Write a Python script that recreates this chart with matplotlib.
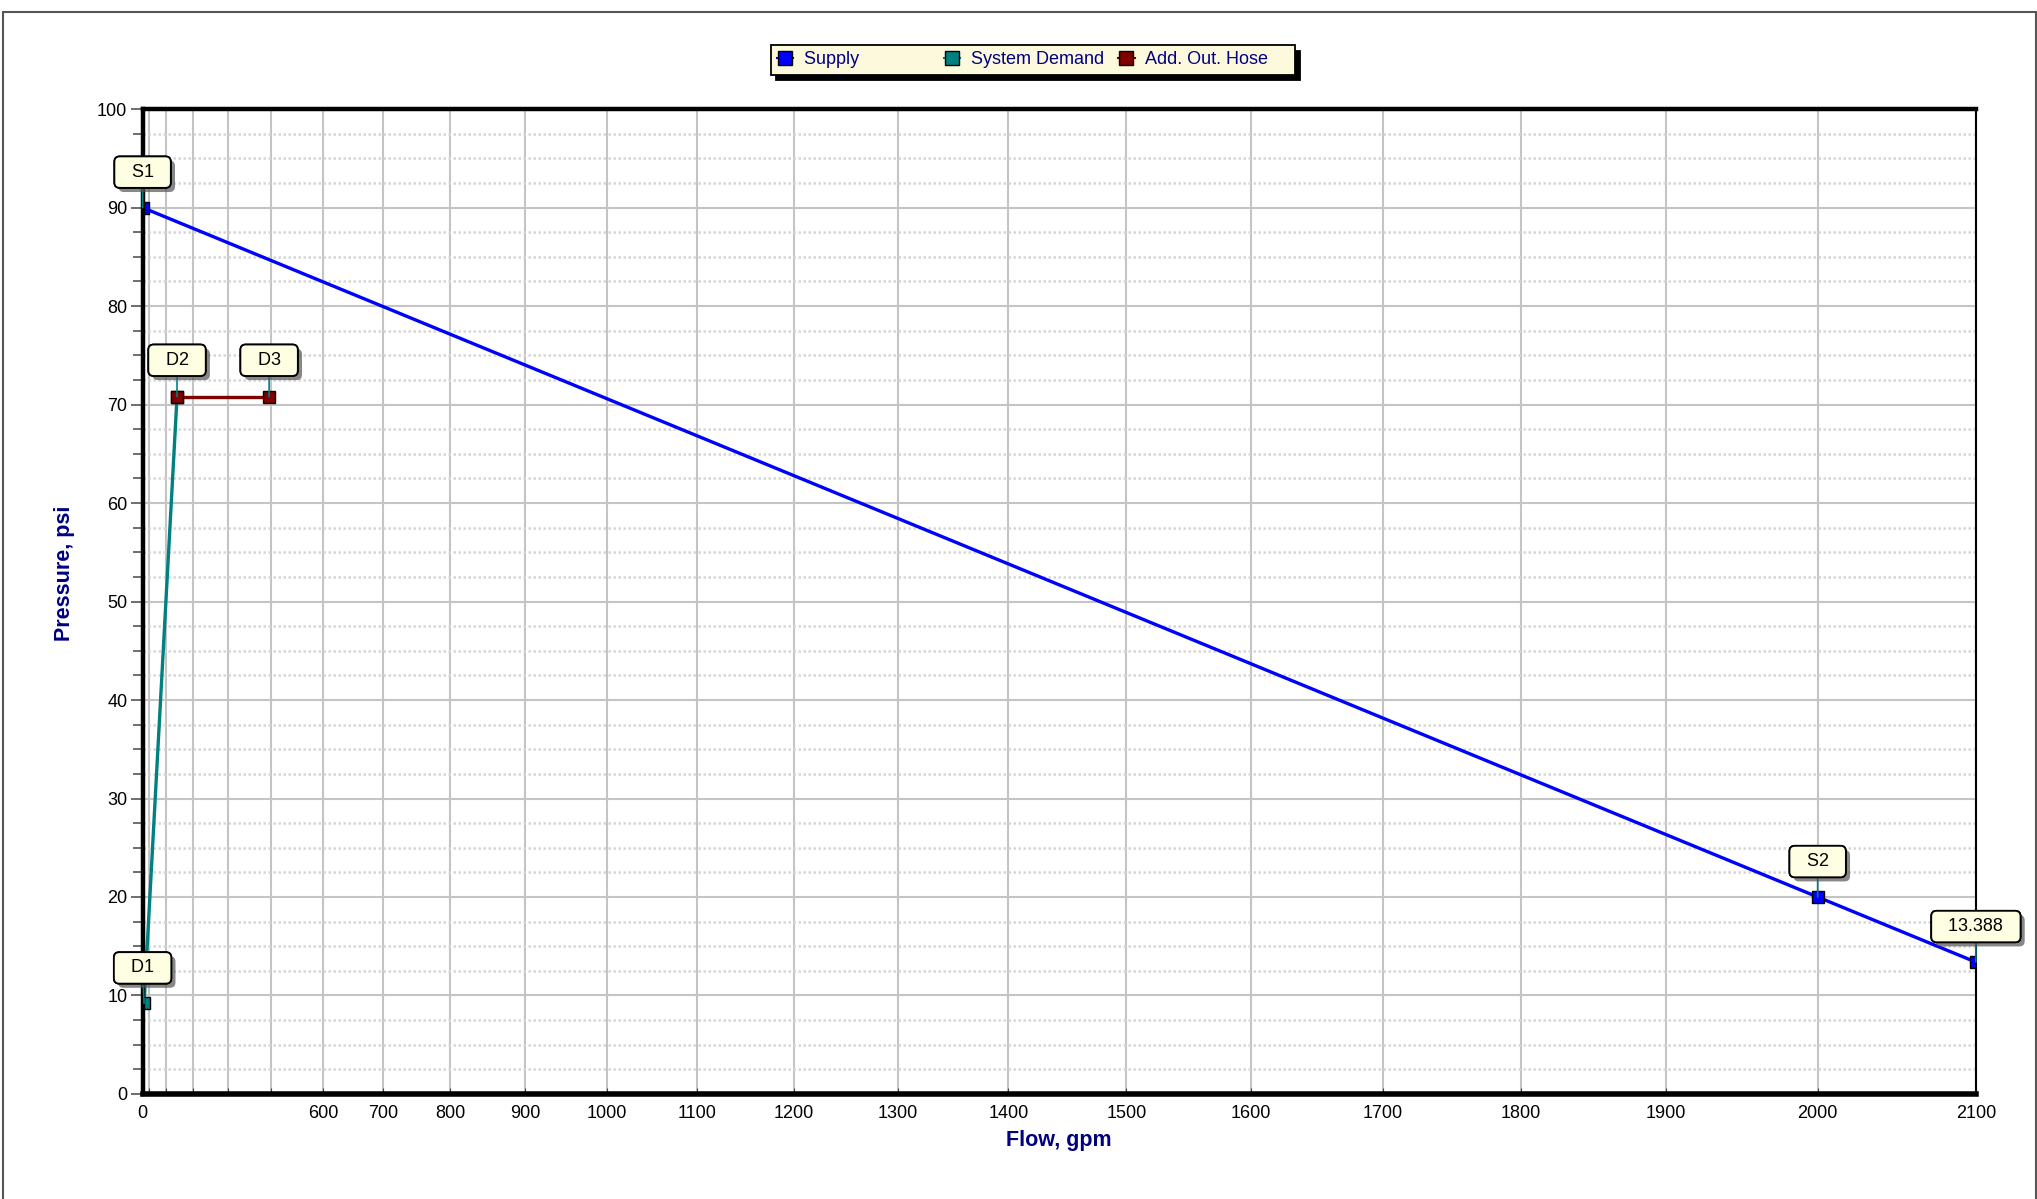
import numpy as np
import matplotlib
matplotlib.use("Agg")
import matplotlib.pyplot as plt
from matplotlib.lines import Line2D
from matplotlib.patches import Rectangle
from matplotlib.ticker import FixedLocator, FuncFormatter, MultipleLocator
import matplotlib.patheffects as pe

plt.rcParams['font.family'] = ['Liberation Sans', 'DejaVu Sans']

# --- data (flow gpm, pressure psi) ---
supply_flow = [0, 2000, 2100]
supply_psi = [90, 20, 13.388]
demand_flow = [45, 245]
demand_psi = [9.2, 70.8]
hose_flow = [245, 495]
hose_psi = [70.8, 70.8]

# point labels: text, point, label position
labels = ["S1", "S2", "13.388", "D1", "D2", "D3"]
label_pts = [(0, 90), (2000, 20), (2100, 13.388), (45, 9.2), (245, 70.8), (495, 70.8)]
label_pos = [(0, 93.6), (2000, 23.6), (2100, 17.0), (0, 12.8), (245, 74.5), (495, 74.5)]

x_ticks = list(range(0, 2200, 100))
x_hidden = [100, 200, 300, 400, 500]

EXP = 1.85
def fwd(x):
    x = np.asarray(x, dtype=float)
    return np.sign(x) * np.abs(x) ** EXP
def inv(x):
    x = np.asarray(x, dtype=float)
    return np.sign(x) * np.abs(x) ** (1 / EXP)

navy = '#000080'
blue = '#0000ff'
teal = '#008080'
maroon = '#800000'

fig = plt.figure(figsize=(20.37, 11.99), dpi=100)
ax = fig.add_axes([0.0700, 0.0876, 0.9000, 0.8214])
ax.set_xscale('function', functions=(fwd, inv))
ax.set_xlim(0, 2100)
ax.set_ylim(0, 100)

ax.xaxis.set_major_locator(FixedLocator(x_ticks))
ax.xaxis.set_major_formatter(FuncFormatter(lambda v, p: "" if int(round(v)) in x_hidden else f"{int(round(v))}"))
ax.xaxis.set_minor_locator(FixedLocator([]))
ax.yaxis.set_major_locator(MultipleLocator(10))
ax.yaxis.set_minor_locator(MultipleLocator(2.5))

ax.grid(which='major', axis='both', color='#c4c4c4', lw=1.5, zorder=0)
ax.grid(which='minor', axis='y', color='#d6d6d6', lw=1.8, ls=(0, (1, 1)), zorder=0)
ax.set_axisbelow(True)

ax.tick_params(axis='x', which='major', length=4, direction='in', color='#444444',
               labelsize=13, pad=8)
ax.tick_params(axis='y', which='major', length=9, width=1.2, color='#555555',
               labelsize=13, pad=2)
ax.tick_params(axis='y', which='minor', length=7, width=1.2, color='#555555')

for s in ['left', 'bottom', 'top']:
    ax.spines[s].set_linewidth(3.2)
ax.spines['bottom'].set_linewidth(4)
ax.spines['right'].set_linewidth(1.5)
for s in ax.spines.values():
    s.set_color('black')
    s.set_zorder(4)

ms = 8
ax.plot(supply_flow, supply_psi, color=blue, lw=2.4, marker='s', ms=ms,
        mfc=blue, mec='black', mew=1, zorder=3)
ax.plot(demand_flow, demand_psi, color=teal, lw=2.4, marker='s', ms=ms,
        mfc=teal, mec='black', mew=1, zorder=3)
ax.plot(hose_flow, hose_psi, color=maroon, lw=2.4, marker='s', ms=ms,
        mfc=maroon, mec='black', mew=1, zorder=3)

for txt, pt, pos in zip(labels, label_pts, label_pos):
    t = ax.annotate("  " + txt + "  ", xy=pt, xytext=pos, textcoords='data',
                    ha='center', va='center', fontsize=13, color='black',
                    annotation_clip=False, zorder=6,
                    bbox=dict(boxstyle='round,pad=0.4,rounding_size=0.3',
                              fc='#fefee2', ec='black', lw=1.3),
                    arrowprops=dict(arrowstyle='-', color=teal, lw=1.2,
                                    shrinkA=0, shrinkB=0))
    t.get_bbox_patch().set_path_effects([
        pe.withSimplePatchShadow(offset=(3, -3), shadow_rgbFace='#555555', alpha=0.7),
        pe.Normal()])

ax.set_xlabel("Flow, gpm", fontsize=15.5, fontweight='bold', color=navy, labelpad=6)
ax.set_ylabel("Pressure, psi", fontsize=15.5, fontweight='bold', color=navy)
ax.yaxis.set_label_coords(-0.037, 0.529)

handles = [
    Line2D([], [], color=blue, lw=1.5, marker='s', ms=10, mfc=blue, mec='black'),
    Line2D([], [], color=teal, lw=1.5, marker='s', ms=10, mfc=teal, mec='black'),
    Line2D([], [], color=maroon, lw=1.5, marker='s', ms=10, mfc=maroon, mec='black'),
]
leg = fig.legend(handles, ["Supply              ", "System Demand", "Add. Out. Hose    "],
                 loc='center', bbox_to_anchor=(0.507, 0.950), ncol=3,
                 fontsize=13, handlelength=0.9, handletextpad=0.6,
                 columnspacing=0.8, borderpad=0.35, fancybox=False,
                 shadow={'color': 'black', 'alpha': 1.0, 'ox': 4, 'oy': -4},
                 frameon=True, facecolor='#fdf9dc', framealpha=1, edgecolor='black')
leg.get_frame().set_linewidth(1.3)
for t in leg.get_texts():
    t.set_color(navy)

fig.patches.append(Rectangle((3 / 2037, -0.01), 2033 / 2037, 1.0, transform=fig.transFigure,
                             fill=False, ec='#555555', lw=1.5))

fig.savefig("out.png", dpi=100)
